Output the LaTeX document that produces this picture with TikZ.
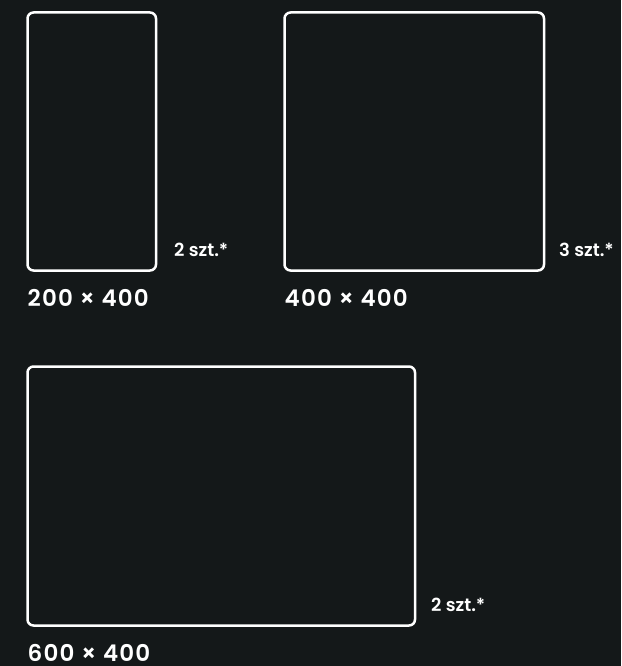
\documentclass[tikz,border=0pt]{standalone}
\usepackage{fontspec}
\setmainfont{Poppins}[BoldFont={Poppins SemiBold}]
\usetikzlibrary{positioning,calc}
\definecolor{PanelBg}{HTML}{141819}
\tikzset{panel/.style={draw=white,line width=2.5pt,rounded corners=6pt,outer sep=0pt,anchor=north west,minimum height=258pt},
  size/.style={text=white,font=\bfseries\fontsize{23}{27}\selectfont\addfontfeatures{LetterSpace=5},anchor=base west,inner sep=0pt},
  count/.style={text=white,font=\bfseries\fontsize{18}{21}\selectfont,anchor=base west,inner sep=0pt}}

\begin{document}
\begin{tikzpicture}[x=1pt,y=-1pt]
\fill[PanelBg] (0,0) rectangle (621,666);
\useasboundingbox (0,0) rectangle (621,666);
\node[panel,minimum width=128.5pt] (tall) at (27.5,12.5) {};
\node[panel,minimum width=259.5pt] (square) at (284.5,12.5) {};
\node[panel,minimum width=387.5pt,minimum height=259pt] (wide) at (27.5,366.5) {};
\node[count] (tallcount) at ($(tall.south east)+(18,-14.5)$) {2 szt.*};
\node[count] (squarecount) at ($(square.south east)+(15,-14.5)$) {3 szt.*};
\node[count] (widecount) at ($(wide.south east)+(16,-14.5)$) {2 szt.*};
\node[size] (tallsize) at ($(tall.south west)+(0,35.5)$) {200 × 400};
\node[size] (squaresize) at ($(square.south west)+(0,35.5)$) {400 × 400};
\node[size] (widesize) at ($(wide.south west)+(0,35.5)$) {600 × 400};
\end{tikzpicture}
\end{document}
